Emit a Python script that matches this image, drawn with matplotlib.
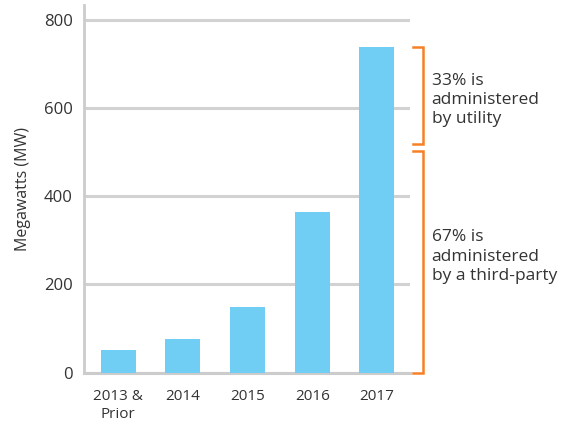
import matplotlib.pyplot as plt
import matplotlib.transforms as mtransforms

years = ['2013 &\nPrior', '2014', '2015', '2016', '2017']
mw = [52, 76, 148, 363, 737]

# brackets beside the 2017 bar (low, high in MW) and their notes
bracket_ranges = [(518, 737), (0, 502)]
bracket_notes = ['33% is\nadministered\nby utility',
                 '67% is\nadministered\nby a third-party']

blue = '#70cdf3'
orange = '#f58025'
grey = '#d2d2d2'

plt.rcParams['font.family'] = ['Open Sans', 'DejaVu Sans']

fig = plt.figure(figsize=(5.83, 4.21), dpi=100)
ax = fig.add_axes([0.144, 0.115, 0.559, 0.873])

ax.bar(range(len(years)), mw, width=0.54, color=blue, zorder=3)
ax.set_xlim(-0.53, 4.51)
ax.set_ylim(0, 833)
ax.set_yticks([0, 200, 400, 600, 800])
ax.set_xticks(range(len(years)))
ax.set_xticklabels(years, fontsize=11, color='#333333', linespacing=1.25)
ax.tick_params(axis='y', labelsize=12, colors='#333333', length=0, pad=8)
ax.tick_params(axis='x', length=0, pad=12)
ax.set_ylabel('Megawatts (MW)', fontsize=11.5, color='#333333', labelpad=9)

ax.yaxis.grid(True, color=grey, lw=2.2, zorder=0)
for s in ['top', 'right']:
    ax.spines[s].set_visible(False)
ax.spines['left'].set_color('#cccccc')
ax.spines['left'].set_linewidth(2)
ax.spines['bottom'].set_color('#cccccc')
ax.spines['bottom'].set_linewidth(2.2)

# notes are nudged a little from the bracket middle, as in the original
tr = mtransforms.blended_transform_factory(ax.transAxes, ax.transData)
nudge = [-10, 12]
for (lo, hi), note, dy in zip(bracket_ranges, bracket_notes, nudge):
    ax.plot([1.009, 1.04, 1.04, 1.009], [hi, hi, lo, lo], transform=tr,
            color=orange, lw=1.8, clip_on=False, solid_joinstyle='miter')
    ax.text(1.067, (lo + hi) / 2 + dy, note, transform=tr, fontsize=12.5,
            color='#333333', va='center', ha='left', linespacing=1.28)

fig.savefig('out.png', dpi=100)
